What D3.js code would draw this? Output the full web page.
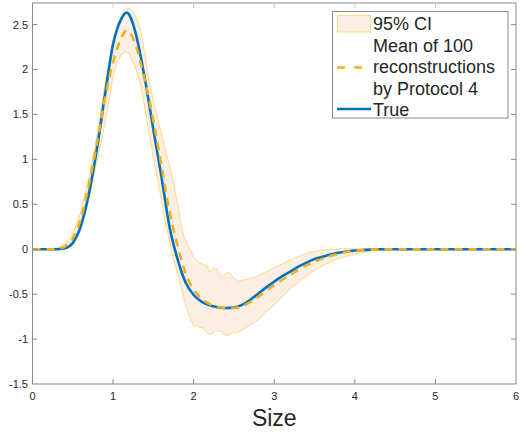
<!DOCTYPE html>
<html>
<head>
<meta charset="utf-8">
<script src="https://cdn.jsdelivr.net/npm/d3@7"></script>
<style>
  body { margin: 0; background: #fff; }
  text { font-family: "Liberation Sans", Arial, sans-serif; fill: #262626; }
</style>
</head>
<body>
<svg id="chart" width="521" height="438"></svg>
<script>
// values
const sizeX = [0, 0.1, 0.2, 0.3, 0.4, 0.5, 0.6, 0.7, 0.8, 0.9, 1.0, 1.1, 1.17, 1.2, 1.25, 1.3, 1.35, 1.4,
  1.5, 1.6, 1.7, 1.8, 1.9, 2.0, 2.1, 2.2, 2.3, 2.4, 2.5, 2.6, 2.7, 2.8, 2.9, 3.0, 3.1, 3.2, 3.3, 3.4,
  3.5, 3.6, 3.7, 3.8, 3.9, 4.0, 4.1, 4.2, 4.3, 4.5, 5.0, 5.5, 6.0];
const trueVals = [0, 0, 0, 0, 0.01, 0.07, 0.26, 0.62, 1.12, 1.72, 2.28, 2.56, 2.635, 2.61, 2.5, 2.33, 2.11, 1.87,
  1.33, 0.81, 0.25, -0.11, -0.37, -0.51, -0.585, -0.625, -0.645, -0.655, -0.65, -0.62, -0.565, -0.495, -0.425,
  -0.36, -0.30, -0.25, -0.195, -0.15, -0.11, -0.085, -0.06, -0.04, -0.025, -0.015, -0.008, -0.004, -0.001, 0, 0, 0, 0];
const meanVals = [0, 0, 0, 0.005, 0.03, 0.12, 0.34, 0.72, 1.18, 1.68, 2.08, 2.35, 2.435, 2.42, 2.34, 2.22, 2.04, 1.86,
  1.43, 0.93, 0.42, 0.04, -0.27, -0.45, -0.55, -0.61, -0.64, -0.655, -0.655, -0.635, -0.59, -0.53, -0.465,
  -0.40, -0.34, -0.285, -0.23, -0.18, -0.14, -0.105, -0.075, -0.05, -0.03, -0.018, -0.01, -0.005, -0.002, 0, 0, 0, 0];

const upperX = [0, 0.2, 0.3, 0.4, 0.5, 0.6, 0.7, 0.8, 0.9, 1.0, 1.1, 1.14, 1.18, 1.22, 1.26, 1.3, 1.35, 1.4, 1.44, 1.5,
  1.56, 1.6, 1.7, 1.75, 1.8, 1.87, 1.93, 1.98, 2.0, 2.06, 2.12, 2.16, 2.2, 2.25, 2.29, 2.33, 2.37, 2.41, 2.45, 2.5,
  2.56, 2.63, 2.7, 2.76, 2.82, 2.9, 2.96, 3.03, 3.1, 3.17, 3.24, 3.34, 3.44, 3.55, 3.65, 3.8, 4.0, 4.2, 4.5, 6.0];
const upperVals = [0, 0.002, 0.012, 0.06, 0.17, 0.42, 0.80, 1.26, 1.85, 2.33, 2.6, 2.66, 2.68, 2.67, 2.63, 2.56, 2.40, 2.14, 1.90, 1.65,
  1.42, 1.28, 0.93, 0.73, 0.50, 0.16, 0.04, -0.04, -0.09, -0.14, -0.18, -0.17, -0.25, -0.21, -0.22, -0.28, -0.30, -0.26, -0.27, -0.32,
  -0.36, -0.34, -0.33, -0.31, -0.285, -0.25, -0.225, -0.195, -0.165, -0.135, -0.105, -0.065, -0.035, -0.015, -0.005, 0.004, 0.003, 0.001, 0, 0];

const lowerX = [0, 0.3, 0.4, 0.5, 0.6, 0.7, 0.8, 0.9, 1.0, 1.05, 1.1, 1.16, 1.2, 1.25, 1.3, 1.335, 1.4, 1.42, 1.5, 1.6,
  1.65, 1.7, 1.73, 1.78, 1.85, 1.91, 1.96, 2.0, 2.04, 2.08, 2.12, 2.15, 2.2, 2.24, 2.27, 2.3, 2.33, 2.37, 2.4, 2.45,
  2.49, 2.52, 2.58, 2.64, 2.7, 2.76, 2.82, 2.9, 2.99, 3.1, 3.2, 3.3, 3.44, 3.55, 3.65, 3.76, 3.86, 4.0, 4.1, 4.2,
  4.3, 4.4, 4.5, 6.0];
const lowerVals = [0, 0, 0.005, 0.05, 0.22, 0.55, 0.98, 1.40, 1.92, 2.08, 2.16, 2.20, 2.17, 2.08, 1.96, 1.85, 1.55, 1.44, 1.02, 0.55,
  0.30, 0.10, -0.04, -0.20, -0.45, -0.65, -0.78, -0.86, -0.84, -0.87, -0.88, -0.92, -0.95, -0.93, -0.90, -0.92, -0.91, -0.94, -0.96, -0.95,
  -0.92, -0.93, -0.91, -0.88, -0.84, -0.81, -0.77, -0.70, -0.63, -0.53, -0.44, -0.37, -0.27, -0.21, -0.16, -0.115, -0.085, -0.055, -0.038, -0.022,
  -0.012, -0.005, 0, 0];

const xTicks = [0, 1, 2, 3, 4, 5, 6];
const yTicks = [-1.5, -1, -0.5, 0, 0.5, 1, 1.5, 2, 2.5];
const legendLabels = ['95% CI', 'Mean of 100', 'reconstructions', 'by Protocol 4', 'True'];

const plot = { left: 32.5, right: 516, top: 3, bottom: 384 };
const blue = '#0072BD', gold = '#EDB120';

const svg = d3.select('#chart');

const x = d3.scaleLinear().domain([0, 6]).range([plot.left, plot.right]);
const y = d3.scaleLinear().domain([-1.5, 2.74]).range([plot.bottom, plot.top]);

// CI band: upper bound forward, lower bound back
const band = upperX.map((v, i) => [v, upperVals[i]])
  .concat(lowerX.map((v, i) => [v, lowerVals[i]]).reverse());

svg.append('path')
  .attr('d', d3.line().x(d => x(d[0])).y(d => y(d[1]))(band) + 'Z')
  .attr('fill', '#FBEFE4')
  .attr('stroke', '#FDD98A')
  .attr('stroke-width', 1);

const curve = d3.line().x(d => x(d[0])).y(d => y(d[1])).curve(d3.curveMonotoneX);

svg.append('path')
  .attr('d', curve(sizeX.map((v, i) => [v, trueVals[i]])))
  .attr('fill', 'none')
  .attr('stroke', blue)
  .attr('stroke-width', 2.6);

svg.append('path')
  .attr('d', curve(sizeX.map((v, i) => [v, meanVals[i]])))
  .attr('fill', 'none')
  .attr('stroke', gold)
  .attr('stroke-width', 2.6)
  .attr('stroke-dasharray', '8,6');

// box with inward ticks on all sides
const axisColor = '#8a8a8a';
svg.append('rect')
  .attr('x', plot.left).attr('y', plot.top)
  .attr('width', plot.right - plot.left).attr('height', plot.bottom - plot.top)
  .attr('fill', 'none').attr('stroke', axisColor).attr('stroke-width', 1);

const tickLen = 5;
svg.append('g').selectAll('line').data(xTicks.slice(1, -1)).enter().append('line')
  .attr('x1', d => x(d)).attr('x2', d => x(d))
  .attr('y1', plot.bottom).attr('y2', plot.bottom - tickLen)
  .attr('stroke', axisColor);
svg.append('g').selectAll('line').data(xTicks.slice(1, -1)).enter().append('line')
  .attr('x1', d => x(d)).attr('x2', d => x(d))
  .attr('y1', plot.top).attr('y2', plot.top + tickLen)
  .attr('stroke', '#c8c8c8');
svg.append('g').selectAll('line').data(yTicks.slice(1)).enter().append('line')
  .attr('x1', plot.left).attr('x2', plot.left + tickLen)
  .attr('y1', d => y(d)).attr('y2', d => y(d))
  .attr('stroke', axisColor);
svg.append('g').selectAll('line').data(yTicks.slice(1)).enter().append('line')
  .attr('x1', plot.right).attr('x2', plot.right - tickLen)
  .attr('y1', d => y(d)).attr('y2', d => y(d))
  .attr('stroke', axisColor);

svg.append('g').selectAll('text').data(xTicks).enter().append('text')
  .attr('x', d => x(d)).attr('y', 400)
  .attr('text-anchor', 'middle')
  .attr('font-size', 11)
  .text(d => d);

svg.append('g').selectAll('text').data(yTicks).enter().append('text')
  .attr('x', 28).attr('y', d => y(d) + 4)
  .attr('text-anchor', 'end')
  .attr('font-size', 11)
  .text(d => d);

svg.append('text')
  .attr('x', (plot.left + plot.right) / 2).attr('y', 426)
  .attr('text-anchor', 'middle')
  .attr('font-size', 23)
  .text('Size');

// legend
const lg = svg.append('g');
lg.append('rect')
  .attr('x', 332.5).attr('y', 11.5).attr('width', 175.5).attr('height', 106.5)
  .attr('fill', '#fff').attr('stroke', '#8a8a8a');
lg.append('rect')
  .attr('x', 337.5).attr('y', 15.5).attr('width', 33).attr('height', 16.5)
  .attr('fill', '#FBEFE4').attr('stroke', '#FDD98A');
lg.append('line')
  .attr('x1', 337).attr('x2', 371).attr('y1', 67.5).attr('y2', 67.5)
  .attr('stroke', gold).attr('stroke-width', 2.6).attr('stroke-dasharray', '8,9');
lg.append('line')
  .attr('x1', 337).attr('x2', 371).attr('y1', 109).attr('y2', 109)
  .attr('stroke', blue).attr('stroke-width', 2.6);
lg.selectAll('text.lab').data(legendLabels).enter().append('text')
  .attr('class', 'lab')
  .attr('x', 373).attr('y', (d, i) => 30 + i * 21.5)
  .attr('font-size', 18)
  .text(d => d);
</script>
</body>
</html>
